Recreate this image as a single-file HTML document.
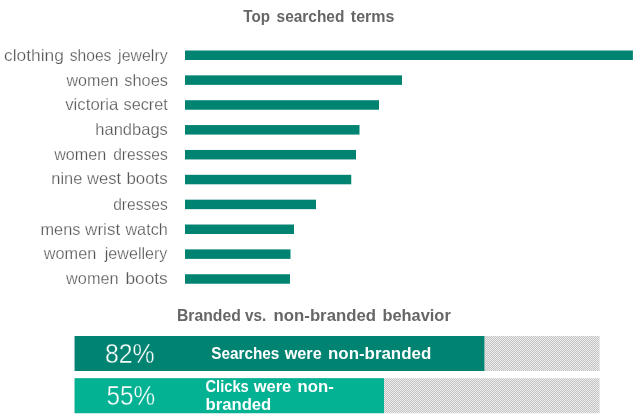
<!DOCTYPE html>
<html><head><meta charset="utf-8"><title>Top searched terms</title>
<style>
html,body{margin:0;padding:0;background:#fff}
svg{display:block}
text{font-family:"Liberation Sans",sans-serif}
.lab{font-size:16.5px;fill:#565656;stroke:#fff;stroke-width:0.25px}
.ttl{font-size:16.3px;font-weight:bold;fill:#666}
.wb{font-size:16px;font-weight:bold;fill:#fff}
.pct{font-size:28px;fill:#fff;stroke-width:0.4px}
</style></head><body>
<svg width="640" height="417" viewBox="0 0 640 417">
<defs><pattern id="h" width="2" height="2" patternUnits="userSpaceOnUse"><rect width="2" height="2" fill="#ececec"/><rect x="1" y="0" width="1" height="1" fill="#c4c4c4"/><rect x="0" y="1" width="1" height="1" fill="#c4c4c4"/></pattern></defs>
<rect width="640" height="417" fill="#fff"/>
<text class="ttl" y="21.5"><tspan x="243.3" textLength="26.7" lengthAdjust="spacingAndGlyphs">Top</tspan> <tspan x="276.6" textLength="67.8" lengthAdjust="spacingAndGlyphs">searched</tspan> <tspan x="350.8" textLength="43.6" lengthAdjust="spacingAndGlyphs">terms</tspan></text>
<text class="lab" y="61.3"><tspan x="4.1" textLength="59.8" lengthAdjust="spacingAndGlyphs">clothing</tspan> <tspan x="69.7" textLength="41.7" lengthAdjust="spacingAndGlyphs">shoes</tspan> <tspan x="118.1" textLength="49.6" lengthAdjust="spacingAndGlyphs">jewelry</tspan></text>
<rect x="185" y="50.50" width="447.90" height="9.5" fill="#018372"/>
<text class="lab" y="85.8"><tspan x="66.5" textLength="51.9" lengthAdjust="spacingAndGlyphs">women</tspan> <tspan x="124.3" textLength="43.6" lengthAdjust="spacingAndGlyphs">shoes</tspan></text>
<rect x="185" y="75.36" width="217.00" height="9.5" fill="#018372"/>
<text class="lab" y="110.0"><tspan x="65.2" textLength="53.2" lengthAdjust="spacingAndGlyphs">victoria</tspan> <tspan x="123.5" textLength="44.4" lengthAdjust="spacingAndGlyphs">secret</tspan></text>
<rect x="185" y="100.22" width="194.00" height="9.5" fill="#018372"/>
<text class="lab" y="134.8"><tspan x="95.3" textLength="72.6" lengthAdjust="spacingAndGlyphs">handbags</tspan></text>
<rect x="185" y="125.08" width="174.50" height="9.5" fill="#018372"/>
<text class="lab" y="160"><tspan x="54.2" textLength="52.1" lengthAdjust="spacingAndGlyphs">women</tspan> <tspan x="113.2" textLength="54.5" lengthAdjust="spacingAndGlyphs">dresses</tspan></text>
<rect x="185" y="149.94" width="171.00" height="9.5" fill="#018372"/>
<text class="lab" y="184.2"><tspan x="51.3" textLength="31.0" lengthAdjust="spacingAndGlyphs">nine</tspan> <tspan x="87.0" textLength="34.2" lengthAdjust="spacingAndGlyphs">west</tspan> <tspan x="126.4" textLength="41.3" lengthAdjust="spacingAndGlyphs">boots</tspan></text>
<rect x="185" y="174.80" width="166.25" height="9.5" fill="#018372"/>
<text class="lab" y="209.6"><tspan x="113.2" textLength="54.6" lengthAdjust="spacingAndGlyphs">dresses</tspan></text>
<rect x="185" y="199.66" width="131.00" height="9.5" fill="#018372"/>
<text class="lab" y="234.8"><tspan x="40.5" textLength="39.9" lengthAdjust="spacingAndGlyphs">mens</tspan> <tspan x="85.1" textLength="35.1" lengthAdjust="spacingAndGlyphs">wrist</tspan> <tspan x="125.4" textLength="42.4" lengthAdjust="spacingAndGlyphs">watch</tspan></text>
<rect x="185" y="224.52" width="109.00" height="9.5" fill="#018372"/>
<text class="lab" y="259.2"><tspan x="43.8" textLength="52.5" lengthAdjust="spacingAndGlyphs">women</tspan> <tspan x="104.8" textLength="62.6" lengthAdjust="spacingAndGlyphs">jewellery</tspan></text>
<rect x="185" y="249.38" width="105.50" height="9.5" fill="#018372"/>
<text class="lab" y="283.9"><tspan x="66.1" textLength="52.5" lengthAdjust="spacingAndGlyphs">women</tspan> <tspan x="125.4" textLength="42.4" lengthAdjust="spacingAndGlyphs">boots</tspan></text>
<rect x="185" y="274.24" width="105.00" height="9.5" fill="#018372"/>
<text class="ttl" y="321.4"><tspan x="177" textLength="63.8" lengthAdjust="spacingAndGlyphs">Branded</tspan> <tspan x="245" textLength="21.3" lengthAdjust="spacingAndGlyphs">vs.</tspan> <tspan x="273.6" textLength="102.4" lengthAdjust="spacingAndGlyphs">non-branded</tspan> <tspan x="382.4" textLength="68.4" lengthAdjust="spacingAndGlyphs">behavior</tspan></text>
<rect x="74.6" y="336" width="525" height="35" fill="url(#h)"/>
<rect x="74.6" y="378.2" width="525" height="35" fill="url(#h)"/>
<rect x="74.6" y="336" width="409.8" height="35" fill="#018372"/>
<rect x="74.6" y="378.2" width="309.4" height="35" fill="#03b193"/>
<text class="pct" stroke="#018372" x="104.9" y="362.9" textLength="49.7" lengthAdjust="spacingAndGlyphs">82%</text>
<text class="pct" stroke="#03b193" x="106.5" y="404.6" textLength="48.7" lengthAdjust="spacingAndGlyphs">55%</text>
<text class="wb" y="359.3"><tspan x="211.2" textLength="68.2" lengthAdjust="spacingAndGlyphs">Searches</tspan> <tspan x="284.7" textLength="37" lengthAdjust="spacingAndGlyphs">were</tspan> <tspan x="328" textLength="103.2" lengthAdjust="spacingAndGlyphs">non-branded</tspan></text>
<text class="wb" y="392.2"><tspan x="205.5" textLength="43.2" lengthAdjust="spacingAndGlyphs">Clicks</tspan> <tspan x="253.7" textLength="37.5" lengthAdjust="spacingAndGlyphs">were</tspan> <tspan x="297.5" textLength="36.2" lengthAdjust="spacingAndGlyphs">non-</tspan></text>
<text class="wb" x="205.5" y="409.8" textLength="65.8" lengthAdjust="spacingAndGlyphs">branded</text>
</svg>
</body></html>
